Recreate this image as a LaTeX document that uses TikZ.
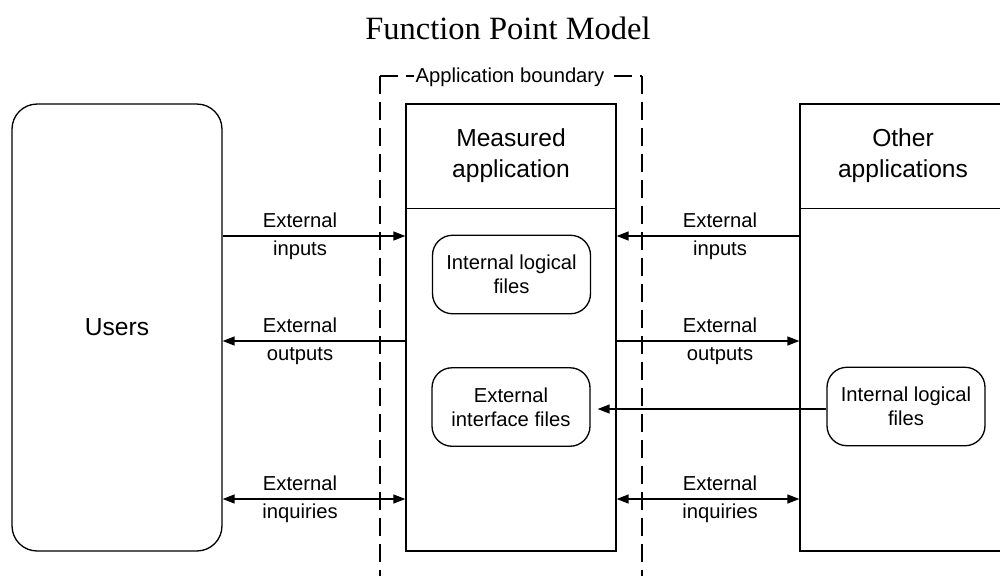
\documentclass[tikz,border=0pt]{standalone}
\usepackage{fontspec}
\setmainfont{Liberation Serif}
\setsansfont{Liberation Sans}
\usetikzlibrary{arrows.meta}
\begin{document}
\begin{tikzpicture}[x=0.02cm,y=-0.02cm,
  line width=0.75pt,
  bigbox/.style={draw, minimum width=4.2cm, minimum height=8.94cm, inner sep=0pt},
  filebox/.style={draw, rounded corners=0.4cm, minimum width=3.16cm, minimum height=1.57cm,
     align=center, inner sep=0pt, font=\sffamily\fontsize{11.5}{13.5}\selectfont},
  head/.style={align=center, font=\sffamily\fontsize{14}{17.6}\selectfont},
  lbl/.style={align=center, inner sep=0pt, font=\sffamily\fontsize{11.5}{15.8}\selectfont},
  arr/.style={-{Triangle[length=0.24cm,width=0.18cm]}},
  darr/.style={{Triangle[length=0.24cm,width=0.18cm]}-{Triangle[length=0.24cm,width=0.18cm]}},
  bound/.style={dash pattern=on 0.36cm off 0.16cm}]
\useasboundingbox (0,0) rectangle (1000,575);
\clip (0,0) rectangle (1000,575);

\node[font=\fontsize{18.5}{22}\selectfont] (title) at (508,28) {Function Point Model};

% application boundary
\coordinate (btl) at (380,76);
\coordinate (btr) at (642,76);
\coordinate (bbl) at (380,585);
\coordinate (bbr) at (642,585);
\draw[bound] (btl) -- (bbl);
\draw[bound] (btr) -- (bbr);
\draw[bound] (btl) -- (btr);
\node[fill=white, inner sep=1pt, font=\sffamily\fontsize{11.5}{13.5}\selectfont] (blabel) at (510,77) {Application boundary};

% main boxes
\node[bigbox, rounded corners=0.5cm] (users) at (117,327.5) {};
\node[head] (userstxt) at (117,327) {Users};
\node[bigbox] (meas) at (511,327.5) {};
\node[bigbox] (other) at (905,327.5) {};
\draw (meas.north west) ++(0,105) coordinate (mdl) -- (mdl -| meas.east);
\draw (other.north west) ++(0,105) coordinate (odl) -- (odl -| other.east);
\node[head] (meastxt) at (511,156) {Measured\\application};
\node[head] (othertxt) at (903,156) {Other\\applications};

% files
\node[filebox] (ilf) at (511.5,274.5) {Internal logical\\files};
\node[filebox] (eif) at (511,407) {External\\interface files};
\node[filebox] (rilf) at (906,406.5) {Internal logical\\files};

% connectors
\coordinate (yin) at (0,236);
\coordinate (yout) at (0,341);
\coordinate (yinq) at (0,499);
\draw[arr] (users.east |- yin) -- (meas.west |- yin);
\draw[arr] (meas.west |- yout) -- (users.east |- yout);
\draw[darr] (users.east |- yinq) -- (meas.west |- yinq);
\draw[arr] (other.west |- yin) -- (meas.east |- yin);
\draw[arr] (meas.east |- yout) -- (other.west |- yout);
\draw[darr] (meas.east |- yinq) -- (other.west |- yinq);
\draw[arr, shorten >=0.14cm] (rilf.west |- 0,409) -- (eif.east |- 0,409);

% labels
\node[lbl] (l1) at (300,236) {External\\inputs};
\node[lbl] (l2) at (300,341) {External\\outputs};
\node[lbl] (l3) at (300,499) {External\\inquiries};
\node[lbl] (l4) at (720,236) {External\\inputs};
\node[lbl] (l5) at (720,341) {External\\outputs};
\node[lbl] (l6) at (720,499) {External\\inquiries};
\end{tikzpicture}
\end{document}
